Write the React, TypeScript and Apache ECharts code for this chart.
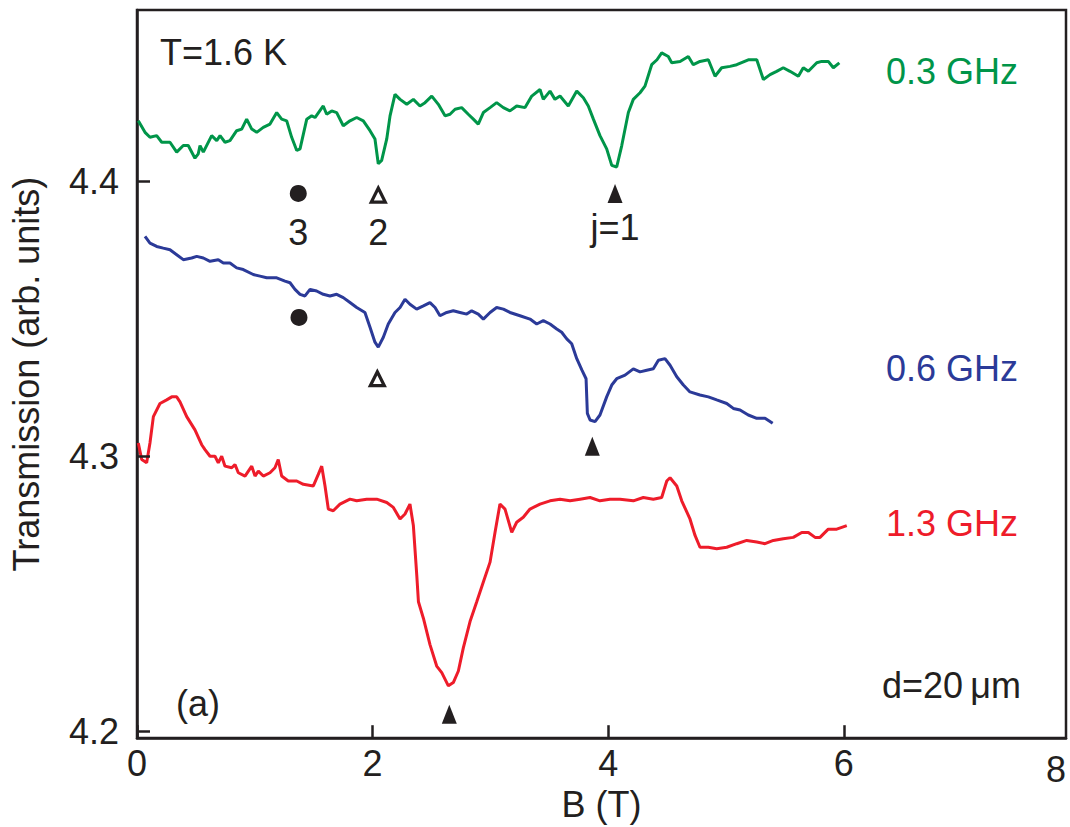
import React, { useEffect, useRef } from "react";
import * as echarts from "echarts";

// B (T), Transmission (arb. units)
const trace03GHz: [number, number][] = [
  [0.011, 4.422], [0.068, 4.4178], [0.11, 4.416], [0.167, 4.4166], [0.21, 4.4142], [0.28, 4.4142],
  [0.337, 4.4106], [0.393, 4.413], [0.435, 4.413], [0.492, 4.4084], [0.52, 4.41], [0.535, 4.413],
  [0.563, 4.4106], [0.634, 4.4166], [0.677, 4.4148], [0.705, 4.4166], [0.747, 4.4142], [0.789, 4.4148],
  [0.846, 4.4184], [0.889, 4.419], [0.931, 4.4226], [0.974, 4.419], [1.016, 4.4178], [1.072, 4.4196],
  [1.129, 4.4208], [1.186, 4.425], [1.228, 4.4226], [1.271, 4.422], [1.313, 4.416], [1.356, 4.4112],
  [1.384, 4.4118], [1.441, 4.4226], [1.483, 4.4238], [1.511, 4.4232], [1.581, 4.4274], [1.61, 4.4244],
  [1.653, 4.4256], [1.695, 4.425], [1.751, 4.4202], [1.808, 4.422], [1.865, 4.4232], [1.921, 4.422],
  [1.978, 4.4184], [2.02, 4.4154], [2.048, 4.4064], [2.077, 4.4076], [2.12, 4.4154], [2.148, 4.4238],
  [2.19, 4.4316], [2.233, 4.4298], [2.29, 4.428], [2.346, 4.4298], [2.402, 4.4274], [2.445, 4.4286],
  [2.502, 4.431], [2.558, 4.428], [2.615, 4.4238], [2.657, 4.4244], [2.7, 4.4262], [2.756, 4.4268],
  [2.812, 4.4244], [2.855, 4.4226], [2.897, 4.4208], [2.94, 4.425], [2.997, 4.4268], [3.053, 4.4286],
  [3.11, 4.4268], [3.166, 4.4256], [3.223, 4.4274], [3.294, 4.4268], [3.351, 4.431], [3.421, 4.4334],
  [3.449, 4.4298], [3.506, 4.4328], [3.548, 4.4298], [3.591, 4.431], [3.661, 4.4274], [3.733, 4.4328],
  [3.789, 4.4304], [3.831, 4.4274], [3.874, 4.4226], [3.93, 4.4166], [3.987, 4.4118], [4.03, 4.4058],
  [4.072, 4.4052], [4.115, 4.413], [4.171, 4.425], [4.213, 4.4298], [4.27, 4.4322], [4.312, 4.4346],
  [4.369, 4.4424], [4.414, 4.4442], [4.454, 4.4467], [4.51, 4.4454], [4.539, 4.4431], [4.61, 4.4436],
  [4.68, 4.4454], [4.722, 4.4424], [4.779, 4.4436], [4.85, 4.4442], [4.907, 4.4382], [4.963, 4.4413],
  [5.034, 4.4418], [5.091, 4.4424], [5.189, 4.4442], [5.261, 4.4442], [5.317, 4.437], [5.374, 4.4388],
  [5.43, 4.44], [5.486, 4.4413], [5.543, 4.44], [5.614, 4.4382], [5.656, 4.4413], [5.699, 4.44],
  [5.77, 4.4431], [5.812, 4.4436], [5.868, 4.4436], [5.911, 4.4413], [5.962, 4.4431],
];

const trace06GHz: [number, number][] = [
  [0.068, 4.38], [0.11, 4.3775], [0.167, 4.3763], [0.223, 4.3757], [0.28, 4.3751], [0.337, 4.3733],
  [0.393, 4.3715], [0.464, 4.3721], [0.507, 4.3727], [0.563, 4.3721], [0.62, 4.3709], [0.69, 4.3715],
  [0.733, 4.3703], [0.789, 4.3703], [0.846, 4.3685], [0.902, 4.3679], [0.987, 4.3661], [1.044, 4.3655],
  [1.101, 4.3649], [1.186, 4.3649], [1.256, 4.3637], [1.299, 4.3631], [1.341, 4.3607], [1.384, 4.3589],
  [1.426, 4.3583], [1.469, 4.3607], [1.525, 4.3601], [1.581, 4.3589], [1.638, 4.3583], [1.695, 4.3589],
  [1.751, 4.3577], [1.808, 4.3559], [1.865, 4.3541], [1.935, 4.3523], [1.978, 4.3469], [2.02, 4.3415],
  [2.048, 4.3397], [2.091, 4.3433], [2.133, 4.3481], [2.19, 4.3523], [2.233, 4.3541], [2.275, 4.3571],
  [2.317, 4.3553], [2.374, 4.3535], [2.431, 4.3547], [2.487, 4.3559], [2.53, 4.3541], [2.572, 4.3511],
  [2.629, 4.3523], [2.685, 4.3529], [2.742, 4.3523], [2.799, 4.3517], [2.841, 4.3529], [2.897, 4.3517],
  [2.94, 4.3499], [2.997, 4.3523], [3.053, 4.3541], [3.11, 4.3535], [3.166, 4.3523], [3.251, 4.3511],
  [3.336, 4.3499], [3.393, 4.3481], [3.449, 4.3493], [3.506, 4.3481], [3.563, 4.3463], [3.605, 4.3451],
  [3.648, 4.3427], [3.69, 4.3409], [3.733, 4.3355], [3.777, 4.3313], [3.812, 4.3282], [3.823, 4.3156],
  [3.846, 4.3132], [3.888, 4.3126], [3.93, 4.315], [3.987, 4.3216], [4.03, 4.3259], [4.072, 4.3282],
  [4.143, 4.3295], [4.213, 4.3318], [4.27, 4.3307], [4.327, 4.3313], [4.383, 4.3318], [4.426, 4.3349],
  [4.482, 4.3355], [4.525, 4.3331], [4.582, 4.3289], [4.638, 4.3259], [4.694, 4.3234], [4.779, 4.3223],
  [4.85, 4.3216], [4.921, 4.3205], [5.006, 4.3192], [5.062, 4.3174], [5.119, 4.3168], [5.189, 4.315],
  [5.261, 4.3138], [5.331, 4.3138], [5.396, 4.312],
];

const trace13GHz: [number, number][] = [
  [0.011, 4.3048], [0.04, 4.2988], [0.082, 4.2976], [0.11, 4.3048], [0.139, 4.3144], [0.195, 4.3192],
  [0.252, 4.3205], [0.295, 4.3216], [0.337, 4.3216], [0.365, 4.3198], [0.422, 4.3144], [0.492, 4.3096],
  [0.549, 4.3042], [0.577, 4.3024], [0.62, 4.3], [0.662, 4.3], [0.69, 4.2976], [0.719, 4.3],
  [0.747, 4.2964], [0.804, 4.2958], [0.832, 4.297], [0.86, 4.294], [0.917, 4.2928], [0.974, 4.2964],
  [1.002, 4.2928], [1.03, 4.2946], [1.072, 4.2928], [1.129, 4.294], [1.171, 4.2958], [1.199, 4.2988],
  [1.228, 4.2928], [1.284, 4.291], [1.356, 4.291], [1.412, 4.2898], [1.497, 4.2892], [1.539, 4.2934],
  [1.568, 4.2964], [1.596, 4.2892], [1.624, 4.2808], [1.666, 4.2802], [1.723, 4.2826], [1.808, 4.2844],
  [1.865, 4.2838], [1.95, 4.2844], [2.035, 4.2844], [2.12, 4.2832], [2.176, 4.2814], [2.233, 4.2772],
  [2.275, 4.279], [2.317, 4.2826], [2.346, 4.2748], [2.375, 4.2567], [2.389, 4.2471], [2.431, 4.2411],
  [2.487, 4.2315], [2.544, 4.2237], [2.587, 4.2213], [2.643, 4.2165], [2.685, 4.2177], [2.728, 4.2219],
  [2.77, 4.2303], [2.827, 4.2399], [2.884, 4.2471], [2.94, 4.2543], [2.997, 4.2615], [3.039, 4.2723],
  [3.081, 4.2826], [3.124, 4.2808], [3.181, 4.2723], [3.223, 4.276], [3.279, 4.2778], [3.336, 4.2808],
  [3.421, 4.2826], [3.506, 4.2838], [3.591, 4.2844], [3.676, 4.2838], [3.761, 4.2844], [3.846, 4.285],
  [3.93, 4.2838], [4.015, 4.2844], [4.1, 4.2844], [4.213, 4.2838], [4.298, 4.285], [4.383, 4.2844],
  [4.454, 4.285], [4.497, 4.291], [4.525, 4.2922], [4.582, 4.2892], [4.624, 4.2838], [4.694, 4.2772],
  [4.737, 4.2712], [4.779, 4.2669], [4.85, 4.2669], [4.921, 4.2664], [5.006, 4.2669], [5.091, 4.2682],
  [5.176, 4.2694], [5.261, 4.2688], [5.331, 4.2682], [5.402, 4.2694], [5.486, 4.27], [5.571, 4.2705],
  [5.643, 4.2723], [5.699, 4.2723], [5.756, 4.2705], [5.798, 4.2705], [5.868, 4.2735], [5.94, 4.2735],
  [6.025, 4.2748],
];

// resonance markers: [B, T, label]
const filledCircles: [number, number, string][] = [
  [1.369, 4.3956, "3"],
  [1.375, 4.3505, ""],
];
const openTriangles: [number, number, string][] = [
  [2.048, 4.395, "2"],
  [2.04, 4.3282, ""],
];
const filledTriangles: [number, number, string][] = [
  [4.058, 4.3956, "j=1"],
  [3.865, 4.3036, ""],
  [2.651, 4.2062, ""],
];

const xTicks = [0, 2, 4, 6];
const yTicks = [4.2, 4.3, 4.4];
const seriesNames = ["0.3 GHz", "0.6 GHz", "1.3 GHz"];
const seriesColors = ["#009549", "#2b3a98", "#ee1c2a"];

const X_MIN = 0;
const X_MAX = 7.886;
const Y_MIN = 4.1975;
const Y_MAX = 4.4623;

const FONT = "'Liberation Sans', Arial, Helvetica, sans-serif";
const INK = "#231f20";
const FS = 36;

export default function App() {
  const ref = useRef<HTMLDivElement>(null);
  useEffect(() => {
    if (!ref.current) return;
    const chart = echarts.init(ref.current, undefined, { renderer: "svg" });
    const markerLabel = {
      show: true,
      position: "bottom" as const,
      distance: 12,
      formatter: (p: any) => p.data[2],
      color: INK,
      fontSize: FS,
      fontFamily: FONT,
    };
    // inward tick marks, expressed in axis units
    const yTickLen = (X_MAX - X_MIN) * (13 / 929);
    const xTickLen = (Y_MAX - Y_MIN) * (13 / 734);
    const tickLines = [
      ...yTicks.map((v) => [{ coord: [X_MIN, v] }, { coord: [X_MIN + yTickLen, v] }]),
      ...xTicks.map((v) => [{ coord: [v, Y_MIN] }, { coord: [v, Y_MIN + xTickLen] }]),
    ];
    chart.setOption({
      animation: false,
      backgroundColor: "#ffffff",
      grid: {
        left: 137,
        top: 10,
        width: 929,
        height: 734,
        show: true,
        borderColor: INK,
        borderWidth: 2.5,
        containLabel: false,
      },
      xAxis: {
        type: "value",
        min: X_MIN,
        max: X_MAX,
        name: "B (T)",
        nameLocation: "middle",
        nameGap: 46,
        nameTextStyle: { color: INK, fontSize: FS, fontFamily: FONT },
        axisLine: { show: true, lineStyle: { color: INK, width: 2.5 } },
        axisTick: { show: false },
        axisLabel: { customValues: xTicks, color: INK, fontSize: FS, fontFamily: FONT, margin: 7, formatter: (v: number) => String(v) },
        splitLine: { show: false },
      },
      yAxis: {
        type: "value",
        min: Y_MIN,
        max: Y_MAX,
        name: "Transmission (arb. units)",
        nameLocation: "middle",
        nameGap: 93,
        nameTextStyle: { color: INK, fontSize: FS, fontFamily: FONT },
        axisLine: { show: true, lineStyle: { color: INK, width: 2.5 } },
        axisTick: { show: false },
        axisLabel: { customValues: yTicks, color: INK, fontSize: FS, fontFamily: FONT, margin: 18, formatter: (v: number) => v.toFixed(1) },
        splitLine: { show: false },
      },
      series: [
        ...[trace03GHz, trace06GHz, trace13GHz].map((d, i) => ({
          type: "line",
          name: seriesNames[i],
          data: d,
          showSymbol: false,
          symbol: "none",
          lineStyle: { color: seriesColors[i], width: 3 },
          z: 3,
          ...(i === 0
            ? {
                markLine: {
                  silent: true,
                  symbol: ["none", "none"],
                  label: { show: false },
                  lineStyle: { color: INK, width: 2.5, type: "solid" },
                  data: tickLines,
                  z: 6,
                },
              }
            : {}),
        })),
        {
          type: "scatter",
          data: filledCircles,
          symbol: "circle",
          symbolSize: 17,
          itemStyle: { color: INK, opacity: 1 },
          label: { ...markerLabel, distance: 13 },
          z: 5,
        },
        {
          type: "scatter",
          data: openTriangles,
          symbol: "triangle",
          symbolSize: [14, 14],
          itemStyle: { color: "#ffffff", borderColor: INK, borderWidth: 3.2, opacity: 1 },
          label: { ...markerLabel, distance: 11 },
          z: 5,
        },
        {
          type: "scatter",
          data: filledTriangles,
          symbol: "triangle",
          symbolSize: [15, 19],
          itemStyle: { color: INK, opacity: 1 },
          label: { ...markerLabel, distance: 7 },
          z: 5,
        },
      ],
      graphic: [
        { type: "text", left: 1046, top: 751, style: { text: "8", fill: INK, fontSize: FS, fontFamily: FONT } },
        { type: "text", left: 160, top: 34, style: { text: "T=1.6 K", fill: INK, fontSize: FS, fontFamily: FONT } },
        { type: "text", left: 176, top: 685, style: { text: "(a)", fill: INK, fontSize: FS, fontFamily: FONT } },
        { type: "text", left: 882, top: 667, style: { text: "d=20\u2009\u03bcm", fill: INK, fontSize: FS, fontFamily: FONT } },
        { type: "text", left: 886, top: 53, style: { text: seriesNames[0], fill: seriesColors[0], fontSize: FS, fontFamily: FONT } },
        { type: "text", left: 886, top: 350, style: { text: seriesNames[1], fill: seriesColors[1], fontSize: FS, fontFamily: FONT } },
        { type: "text", left: 886, top: 505, style: { text: seriesNames[2], fill: seriesColors[2], fontSize: FS, fontFamily: FONT } },
      ],
    });
    return () => chart.dispose();
  }, []);
  return (
    <div
      ref={ref}
      style={{ position: "absolute", left: 0, top: 0, width: 1070, height: 827, background: "#fff" }}
    />
  );
}
